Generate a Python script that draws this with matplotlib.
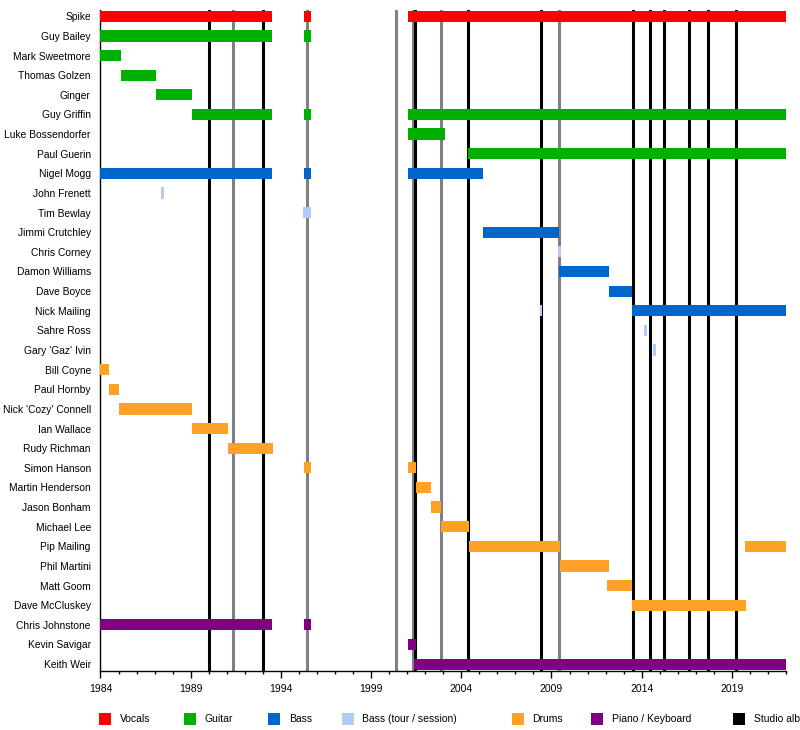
import matplotlib
matplotlib.use("Agg")
import matplotlib.pyplot as plt
from matplotlib.patches import Rectangle
from matplotlib.ticker import FixedLocator, MultipleLocator

FONT = ["Liberation Sans", "DejaVu Sans"]
plt.rcParams["font.family"] = FONT
FS = 7.5

members = ["Spike", "Guy Bailey", "Mark Sweetmore", "Thomas Golzen", "Ginger",
           "Guy Griffin", "Luke Bossendorfer", "Paul Guerin", "Nigel Mogg",
           "John Frenett", "Tim Bewlay", "Jimmi Crutchley", "Chris Corney",
           "Damon Williams", "Dave Boyce", "Nick Mailing", "Sahre Ross",
           "Gary 'Gaz' Ivin", "Bill Coyne", "Paul Hornby", "Nick 'Cozy' Connell",
           "Ian Wallace", "Rudy Richman", "Simon Hanson", "Martin Henderson",
           "Jason Bonham", "Michael Lee", "Pip Mailing", "Phil Martini",
           "Matt Goom", "Dave McCluskey", "Chris Johnstone", "Kevin Savigar",
           "Keith Weir"]

vocals = [("Spike", 1984.0, 1993.5), ("Spike", 1995.3, 1995.65), ("Spike", 2001.05, 2022.0)]
guitar = [("Guy Bailey", 1984.0, 1993.5), ("Guy Bailey", 1995.3, 1995.65),
          ("Mark Sweetmore", 1984.0, 1985.15), ("Thomas Golzen", 1985.15, 1987.05),
          ("Ginger", 1987.05, 1989.05), ("Guy Griffin", 1989.05, 1993.5),
          ("Guy Griffin", 1995.3, 1995.65), ("Guy Griffin", 2001.05, 2022.0),
          ("Luke Bossendorfer", 2001.05, 2003.1), ("Paul Guerin", 2004.35, 2022.0)]
bass = [("Nigel Mogg", 1984.0, 1993.5), ("Nigel Mogg", 1995.3, 1995.65),
        ("Nigel Mogg", 2001.05, 2005.2), ("Jimmi Crutchley", 2005.2, 2009.4),
        ("Damon Williams", 2009.4, 2012.2), ("Dave Boyce", 2012.2, 2013.45),
        ("Nick Mailing", 2013.45, 2022.0)]
bass_tour = [("John Frenett", 1987.35, 1987.5), ("Tim Bewlay", 1995.25, 1995.65),
             ("Chris Corney", 2009.35, 2009.5), ("Nick Mailing", 2008.35, 2008.5),
             ("Sahre Ross", 2014.15, 2014.3), ("Gary 'Gaz' Ivin", 2014.65, 2014.8)]
drums = [("Bill Coyne", 1984.0, 1984.45), ("Paul Hornby", 1984.45, 1985.05),
         ("Nick 'Cozy' Connell", 1985.05, 1989.05), ("Ian Wallace", 1989.05, 1991.05),
         ("Rudy Richman", 1991.05, 1993.55), ("Simon Hanson", 1995.3, 1995.65),
         ("Simon Hanson", 2001.05, 2001.5), ("Martin Henderson", 2001.5, 2002.3),
         ("Jason Bonham", 2002.3, 2002.9), ("Michael Lee", 2002.9, 2004.4),
         ("Pip Mailing", 2004.4, 2009.45), ("Pip Mailing", 2019.75, 2022.0),
         ("Phil Martini", 2009.45, 2012.2), ("Matt Goom", 2012.1, 2013.45),
         ("Dave McCluskey", 2013.45, 2019.8)]
keys = [("Chris Johnstone", 1984.0, 1993.5), ("Chris Johnstone", 1995.3, 1995.65),
        ("Kevin Savigar", 2001.05, 2001.5), ("Keith Weir", 2001.4, 2022.0)]

studio_albums = [1990.0, 1993.0, 2001.45, 2004.35, 2008.4, 2013.5, 2014.45,
                 2015.25, 2016.65, 2017.7, 2019.25]
other_releases = [1991.35, 1995.45, 2000.4, 2001.35, 2002.85, 2009.4]

year_ticks = [1984, 1989, 1994, 1999, 2004, 2009, 2014, 2019]

roles = [
    ("Vocals", "#FF0000", vocals),
    ("Guitar", "#00B000", guitar),
    ("Bass", "#0066CC", bass),
    ("Bass (tour / session)", "#B3CCF5", bass_tour),
    ("Drums", "#FFA127", drums),
    ("Piano / Keyboard", "#800080", keys),
]

W, H = 800, 730
fig = plt.figure(figsize=(W / 100, H / 100), dpi=100)
left, right, top, bottom = 100.5, 786, 10, 671
ax = fig.add_axes([left / W, 1 - bottom / H, (right - left) / W, (bottom - top) / H])

row = {m: i for i, m in enumerate(members)}
n = len(members)

for x in other_releases:
    ax.axvline(x, color="#808080", lw=2.2, zorder=1)
for x in studio_albums:
    ax.axvline(x, color="black", lw=2.2, zorder=1)

for label, color, spans in roles:
    ys = [row[m] for m, s, e in spans]
    ws = [e - s for m, s, e in spans]
    ls = [s for m, s, e in spans]
    ax.barh(ys, ws, left=ls, height=0.57, color=color, zorder=3, linewidth=0)

ax.set_xlim(1984, 2022)
ax.set_ylim(n - 1 + 0.35, -0.32)
ax.set_yticks(range(n))
ax.set_yticklabels(members, fontsize=7.4, family=FONT)
ax.tick_params(axis="y", length=0, pad=7)
ax.xaxis.set_major_locator(FixedLocator(year_ticks))
ax.xaxis.set_minor_locator(MultipleLocator(1))
ax.tick_params(axis="x", which="major", length=5, width=1, pad=4, labelsize=FS)
ax.tick_params(axis="x", which="minor", length=2.5, width=1)
for lab in ax.get_xticklabels():
    lab.set_family(FONT)
ax.spines["top"].set_visible(False)
ax.spines["right"].set_visible(False)
for s in ("left", "bottom"):
    ax.spines[s].set_linewidth(1)
    ax.spines[s].set_color("black")

# legend row
legend_items = [(l, c) for l, c, _ in roles] + [("Studio album", "black")]
sq_x = [98.5, 183.5, 268, 341.5, 511.5, 591, 733]
ly = 719
for (label, color), sx in zip(legend_items, sq_x):
    fig.add_artist(Rectangle((sx / W, 1 - (ly + 6) / H), 12 / W, 12 / H,
                             transform=fig.transFigure, facecolor=color,
                             edgecolor="none"))
    fig.text((sx + 21) / W, 1 - ly / H, label, fontsize=FS, family=FONT,
             va="center", ha="left")

fig.savefig("out.png", dpi=100)
